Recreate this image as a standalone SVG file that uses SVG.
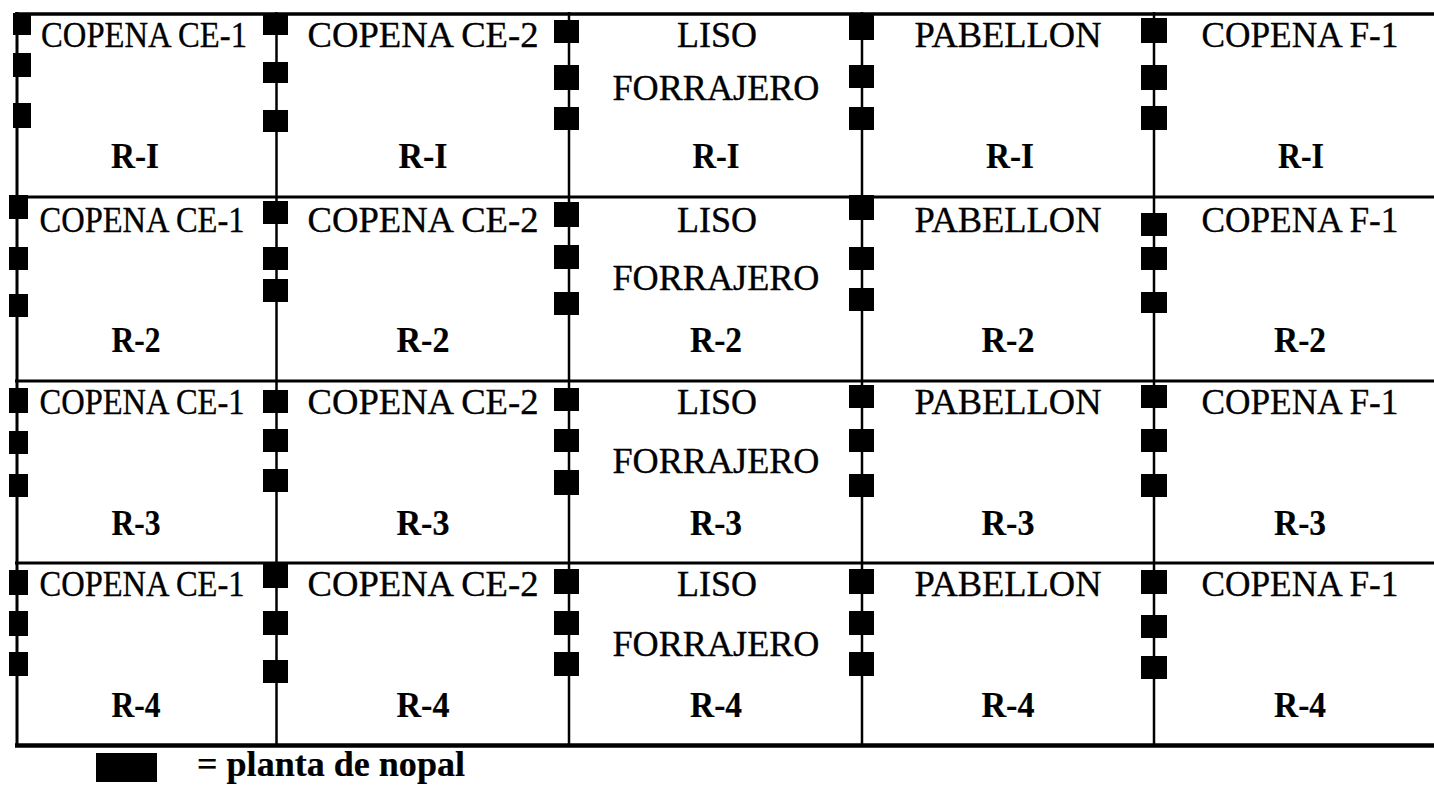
<svg xmlns="http://www.w3.org/2000/svg" width="1434" height="790" viewBox="0 0 1434 790">
<style>
.t{font-family:"Liberation Serif","Times New Roman",serif;font-size:36px;fill:#000;text-anchor:middle;stroke:#000;stroke-width:0.35px}
.r{font-weight:bold;font-size:35px;stroke-width:0.2px}
.g{stroke:#000;fill:none}
.p{fill:#000}
</style>
<rect width="1434" height="790" fill="#fff"/>
<g id="grid" class="g">
<line x1="15" y1="14" x2="1434" y2="14" stroke-width="3.5"/>
<line x1="15" y1="197" x2="1434" y2="197" stroke-width="3"/>
<line x1="15" y1="381" x2="1434" y2="381" stroke-width="3"/>
<line x1="15" y1="563" x2="1434" y2="563" stroke-width="3"/>
<line x1="15" y1="745.5" x2="1434" y2="745.5" stroke-width="4.5"/>
<line x1="17" y1="12" x2="17" y2="747" stroke-width="3"/>
<line x1="276.5" y1="12" x2="276.5" y2="747" stroke-width="2.5"/>
<line x1="569" y1="12" x2="569" y2="747" stroke-width="2.5"/>
<line x1="862" y1="12" x2="862" y2="747" stroke-width="2.5"/>
<line x1="1154" y1="12" x2="1154" y2="747" stroke-width="2.5"/>
</g>
<g id="plantas" class="p">
<rect x="13" y="13" width="18" height="22"/><rect x="13" y="53" width="18" height="24"/><rect x="13" y="103" width="18" height="25"/>
<rect x="9" y="195" width="19" height="24"/><rect x="9" y="247" width="19" height="23"/><rect x="9" y="294" width="19" height="23"/>
<rect x="9" y="388" width="19" height="25"/><rect x="9" y="431" width="19" height="23"/><rect x="9" y="474" width="19" height="23"/>
<rect x="9" y="570" width="19" height="25"/><rect x="9" y="611" width="19" height="25"/><rect x="9" y="652" width="19" height="24"/>

<rect x="263" y="13" width="25" height="22"/><rect x="263" y="62" width="25" height="21"/><rect x="263" y="110" width="25" height="22"/>
<rect x="263" y="201" width="25" height="23"/><rect x="263" y="247" width="25" height="23"/><rect x="263" y="279" width="25" height="23"/>
<rect x="263" y="390" width="25" height="23"/><rect x="263" y="429" width="25" height="23"/><rect x="263" y="469" width="25" height="23"/>
<rect x="263" y="563" width="25" height="25"/><rect x="263" y="611" width="25" height="24"/><rect x="263" y="660" width="25" height="23"/>

<rect x="554" y="20" width="25" height="23"/><rect x="554" y="65" width="25" height="25"/><rect x="554" y="107" width="25" height="23"/>
<rect x="554" y="202" width="25" height="25"/><rect x="554" y="245" width="25" height="24"/><rect x="554" y="292" width="25" height="23"/>
<rect x="554" y="388" width="25" height="23"/><rect x="554" y="429" width="25" height="23"/><rect x="554" y="470" width="25" height="25"/>
<rect x="554" y="569" width="25" height="25"/><rect x="554" y="611" width="25" height="24"/><rect x="554" y="652" width="25" height="24"/>

<rect x="849" y="15" width="25" height="25"/><rect x="849" y="65" width="25" height="23"/><rect x="849" y="107" width="25" height="23"/>
<rect x="849" y="195" width="25" height="25"/><rect x="849" y="247" width="25" height="23"/><rect x="849" y="288" width="25" height="23"/>
<rect x="849" y="385" width="25" height="23"/><rect x="849" y="429" width="25" height="23"/><rect x="849" y="474" width="25" height="23"/>
<rect x="849" y="569" width="25" height="25"/><rect x="849" y="611" width="25" height="24"/><rect x="849" y="652" width="25" height="24"/>

<rect x="1141" y="18" width="26" height="25"/><rect x="1141" y="65" width="26" height="25"/><rect x="1141" y="106" width="26" height="24"/>
<rect x="1141" y="213" width="26" height="23"/><rect x="1141" y="247" width="26" height="23"/><rect x="1141" y="292" width="26" height="21"/>
<rect x="1141" y="385" width="26" height="23"/><rect x="1141" y="429" width="26" height="23"/><rect x="1141" y="474" width="26" height="23"/>
<rect x="1141" y="570" width="26" height="24"/><rect x="1141" y="615" width="26" height="23"/><rect x="1141" y="656" width="26" height="23"/>
</g>

<g id="cell-ce1-r1"><text class="t" x="144" y="47" textLength="206" lengthAdjust="spacingAndGlyphs">COPENA CE-1</text><text class="t r" x="135" y="168" textLength="48" lengthAdjust="spacingAndGlyphs">R-I</text></g>
<g id="cell-ce2-r1"><text class="t" x="423" y="47" textLength="231" lengthAdjust="spacingAndGlyphs">COPENA CE-2</text><text class="t r" x="423" y="168" textLength="49" lengthAdjust="spacingAndGlyphs">R-I</text></g>
<g id="cell-liso-r1"><text class="t" x="717" y="47" textLength="80" lengthAdjust="spacingAndGlyphs">LISO</text><text class="t" x="716" y="100" textLength="207" lengthAdjust="spacingAndGlyphs">FORRAJERO</text><text class="t r" x="716" y="168" textLength="47" lengthAdjust="spacingAndGlyphs">R-I</text></g>
<g id="cell-pab-r1"><text class="t" x="1008" y="47" textLength="187" lengthAdjust="spacingAndGlyphs">PABELLON</text><text class="t r" x="1010" y="168" textLength="48" lengthAdjust="spacingAndGlyphs">R-I</text></g>
<g id="cell-f1-r1"><text class="t" x="1300" y="47" textLength="197" lengthAdjust="spacingAndGlyphs">COPENA F-1</text><text class="t r" x="1301" y="168" textLength="46" lengthAdjust="spacingAndGlyphs">R-I</text></g>

<g id="cell-ce1-r2"><text class="t" x="142" y="232" textLength="205" lengthAdjust="spacingAndGlyphs">COPENA CE-1</text><text class="t r" x="136" y="352" textLength="49" lengthAdjust="spacingAndGlyphs">R-2</text></g>
<g id="cell-ce2-r2"><text class="t" x="423" y="232" textLength="231" lengthAdjust="spacingAndGlyphs">COPENA CE-2</text><text class="t r" x="423" y="352" textLength="53" lengthAdjust="spacingAndGlyphs">R-2</text></g>
<g id="cell-liso-r2"><text class="t" x="717" y="232" textLength="80" lengthAdjust="spacingAndGlyphs">LISO</text><text class="t" x="716" y="290" textLength="207" lengthAdjust="spacingAndGlyphs">FORRAJERO</text><text class="t r" x="716" y="352" textLength="52" lengthAdjust="spacingAndGlyphs">R-2</text></g>
<g id="cell-pab-r2"><text class="t" x="1008" y="232" textLength="187" lengthAdjust="spacingAndGlyphs">PABELLON</text><text class="t r" x="1008" y="352" textLength="53" lengthAdjust="spacingAndGlyphs">R-2</text></g>
<g id="cell-f1-r2"><text class="t" x="1300" y="232" textLength="197" lengthAdjust="spacingAndGlyphs">COPENA F-1</text><text class="t r" x="1300" y="352" textLength="52" lengthAdjust="spacingAndGlyphs">R-2</text></g>

<g id="cell-ce1-r3"><text class="t" x="142" y="414" textLength="205" lengthAdjust="spacingAndGlyphs">COPENA CE-1</text><text class="t r" x="136" y="535" textLength="49" lengthAdjust="spacingAndGlyphs">R-3</text></g>
<g id="cell-ce2-r3"><text class="t" x="423" y="414" textLength="231" lengthAdjust="spacingAndGlyphs">COPENA CE-2</text><text class="t r" x="423" y="535" textLength="53" lengthAdjust="spacingAndGlyphs">R-3</text></g>
<g id="cell-liso-r3"><text class="t" x="717" y="414" textLength="80" lengthAdjust="spacingAndGlyphs">LISO</text><text class="t" x="716" y="473" textLength="207" lengthAdjust="spacingAndGlyphs">FORRAJERO</text><text class="t r" x="716" y="535" textLength="52" lengthAdjust="spacingAndGlyphs">R-3</text></g>
<g id="cell-pab-r3"><text class="t" x="1008" y="414" textLength="187" lengthAdjust="spacingAndGlyphs">PABELLON</text><text class="t r" x="1008" y="535" textLength="53" lengthAdjust="spacingAndGlyphs">R-3</text></g>
<g id="cell-f1-r3"><text class="t" x="1300" y="414" textLength="197" lengthAdjust="spacingAndGlyphs">COPENA F-1</text><text class="t r" x="1300" y="535" textLength="52" lengthAdjust="spacingAndGlyphs">R-3</text></g>

<g id="cell-ce1-r4"><text class="t" x="142" y="596" textLength="205" lengthAdjust="spacingAndGlyphs">COPENA CE-1</text><text class="t r" x="136" y="717" textLength="49" lengthAdjust="spacingAndGlyphs">R-4</text></g>
<g id="cell-ce2-r4"><text class="t" x="423" y="596" textLength="231" lengthAdjust="spacingAndGlyphs">COPENA CE-2</text><text class="t r" x="423" y="717" textLength="53" lengthAdjust="spacingAndGlyphs">R-4</text></g>
<g id="cell-liso-r4"><text class="t" x="717" y="596" textLength="80" lengthAdjust="spacingAndGlyphs">LISO</text><text class="t" x="716" y="656" textLength="207" lengthAdjust="spacingAndGlyphs">FORRAJERO</text><text class="t r" x="716" y="717" textLength="52" lengthAdjust="spacingAndGlyphs">R-4</text></g>
<g id="cell-pab-r4"><text class="t" x="1008" y="596" textLength="187" lengthAdjust="spacingAndGlyphs">PABELLON</text><text class="t r" x="1008" y="717" textLength="53" lengthAdjust="spacingAndGlyphs">R-4</text></g>
<g id="cell-f1-r4"><text class="t" x="1300" y="596" textLength="197" lengthAdjust="spacingAndGlyphs">COPENA F-1</text><text class="t r" x="1300" y="717" textLength="52" lengthAdjust="spacingAndGlyphs">R-4</text></g>

<g id="legend">
<rect x="96" y="753" width="61" height="29" fill="#000"/>
<text class="t r" x="197" y="776" style="text-anchor:start;font-size:36px" textLength="268" lengthAdjust="spacingAndGlyphs">= planta de nopal</text>
</g>
</svg>
